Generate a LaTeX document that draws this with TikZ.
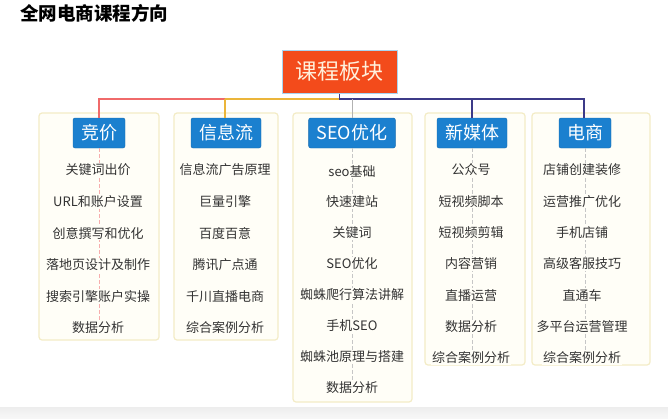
\documentclass[tikz,border=0pt]{standalone}
\usepackage{fontspec}
\setmainfont{Noto Sans CJK SC}
\definecolor{panelfill}{HTML}{FFFEF7}
\definecolor{paneledge}{HTML}{F3ECC6}
\definecolor{headblue}{HTML}{1B80CF}
\definecolor{headedge}{HTML}{1469AE}
\definecolor{topfill}{HTML}{F34B1B}
\definecolor{topedge}{HTML}{A9D4F0}
\definecolor{busred}{HTML}{F06A6A}
\definecolor{busyel}{HTML}{EBB53A}
\definecolor{busnavy}{HTML}{3C3A88}
\definecolor{itemtext}{HTML}{333333}
\begin{document}
\begin{tikzpicture}[x=1pt,y=-1pt,
  panel/.style={draw=paneledge, fill=panelfill, rounded corners=3pt, line width=1.2pt, inner sep=0pt},
  head/.style={fill=headblue, draw=headedge, rounded corners=2pt, text=white,
    font=\fontsize{18}{18}\selectfont, minimum height=30pt, inner xsep=8pt, inner ysep=0pt},
  item/.style={fill=panelfill, inner sep=1pt, text=itemtext, font=\fontsize{13}{13}\selectfont},
  colline/.style={draw=gray!45, line width=0.6pt, dashed, dash pattern=on 4pt off 2pt},
  bus/.style={line width=1.6pt}
]
\useasboundingbox (0,0) rectangle (668,418);
\fill[white] (0,0) rectangle (668,418);
\shade[top color=gray!14, bottom color=gray!6] (0,407) rectangle (668,418);

% title
\node[anchor=west, font=\fontsize{18.5}{18.5}\selectfont\bfseries, inner sep=0pt] (title) at (20,13) {全网电商课程方向};

% panels
\node[panel, minimum width=120pt, minimum height=227pt] (p1) at (99,226.5) {};
\node[panel, minimum width=104pt, minimum height=227pt] (p2) at (226,226.5) {};
\node[panel, minimum width=119pt, minimum height=289pt] (p3) at (352.5,257.5) {};
\node[panel, minimum width=100pt, minimum height=252pt] (p4) at (475,239) {};
\node[panel, minimum width=118pt, minimum height=252pt] (p5) at (591,239) {};

% headers
\node[head] (h1) at (99,133) {竞价};
\node[head] (h2) at (226,133) {信息流};
\node[head] (h3) at (352,133) {SEO优化};
\node[head] (h4) at (472,133) {新媒体};
\node[head] (h5) at (585,133) {电商};

% column lines (behind items)
\coordinate (e1) at (99,328);
\coordinate (e3) at (352,388);
\coordinate (e4) at (472,358);
\coordinate (e5) at (585,358);
\draw[colline, draw=busred!55] (h1.south) -- (e1);
\draw[colline] (h3.south) -- (e3);
\draw[colline] (h4.south) -- (e4);
\draw[colline] (h5.south) -- (e5);

% items
\foreach \t [count=\k] in {关键词出价,URL和账户设置,创意撰写和优化,落地页设计及制作,搜索引擎账户实操,数据分析}
  \node[item] (a\k) at (98,{170+31.6*(\k-1)}) {\t};
\foreach \t [count=\k] in {信息流广告原理,巨量引擎,百度百意,腾讯广点通,千川直播电商,综合案例分析}
  \node[item] (b\k) at (225,{170+31.6*(\k-1)}) {\t};
\foreach \t [count=\k] in {seo基础,快速建站,关键词,SEO优化,蜘蛛爬行算法讲解,手机SEO,蜘蛛池原理与搭建,数据分析}
  \node[item] (c\k) at (352,{171+31*(\k-1)}) {\t};
\foreach \t [count=\k] in {公众号,短视频脚本,短视频剪辑,内容营销,直播运营,数据分析,综合案例分析}
  \node[item] (d\k) at (471,{170+31.3*(\k-1)}) {\t};
\foreach \t [count=\k] in {店铺创建装修,运营推广优化,手机店铺,高级客服技巧,直通车,多平台运营管理,综合案例分析}
  \node[item] (f\k) at (582,{170+31.3*(\k-1)}) {\t};

% top box
\node[fill=topfill, draw=topedge, line width=1pt, minimum width=115pt, minimum height=43pt,
  text={rgb,255:red,255;green,240;blue,220}, font=\fontsize{22}{22}\selectfont] (top) at (339.5,71.5) {课程板块};

% bus
\coordinate (j) at (339.5,99);
\coordinate (b1) at (99,99);
\coordinate (b2) at (225,99);
\coordinate (b3) at (352,99);
\coordinate (b4) at (472,99);
\coordinate (b5) at (584,99);
\draw[bus, busred] (h1.north -| b1) -- (b1) -- (b2);
\draw[bus, busyel] (b2) -- (j);
\draw[bus, busyel] (b2) -- (h2.north -| b2);
\draw[bus, busnavy] (top.south) -- (j) -- (b5) -- (h5.north -| b5);
\draw[bus, busnavy] (b4) -- (h4.north -| b4);
\draw[line width=0.8pt, gray!60] (b3) -- (h3.north -| b3);
\end{tikzpicture}
\end{document}
